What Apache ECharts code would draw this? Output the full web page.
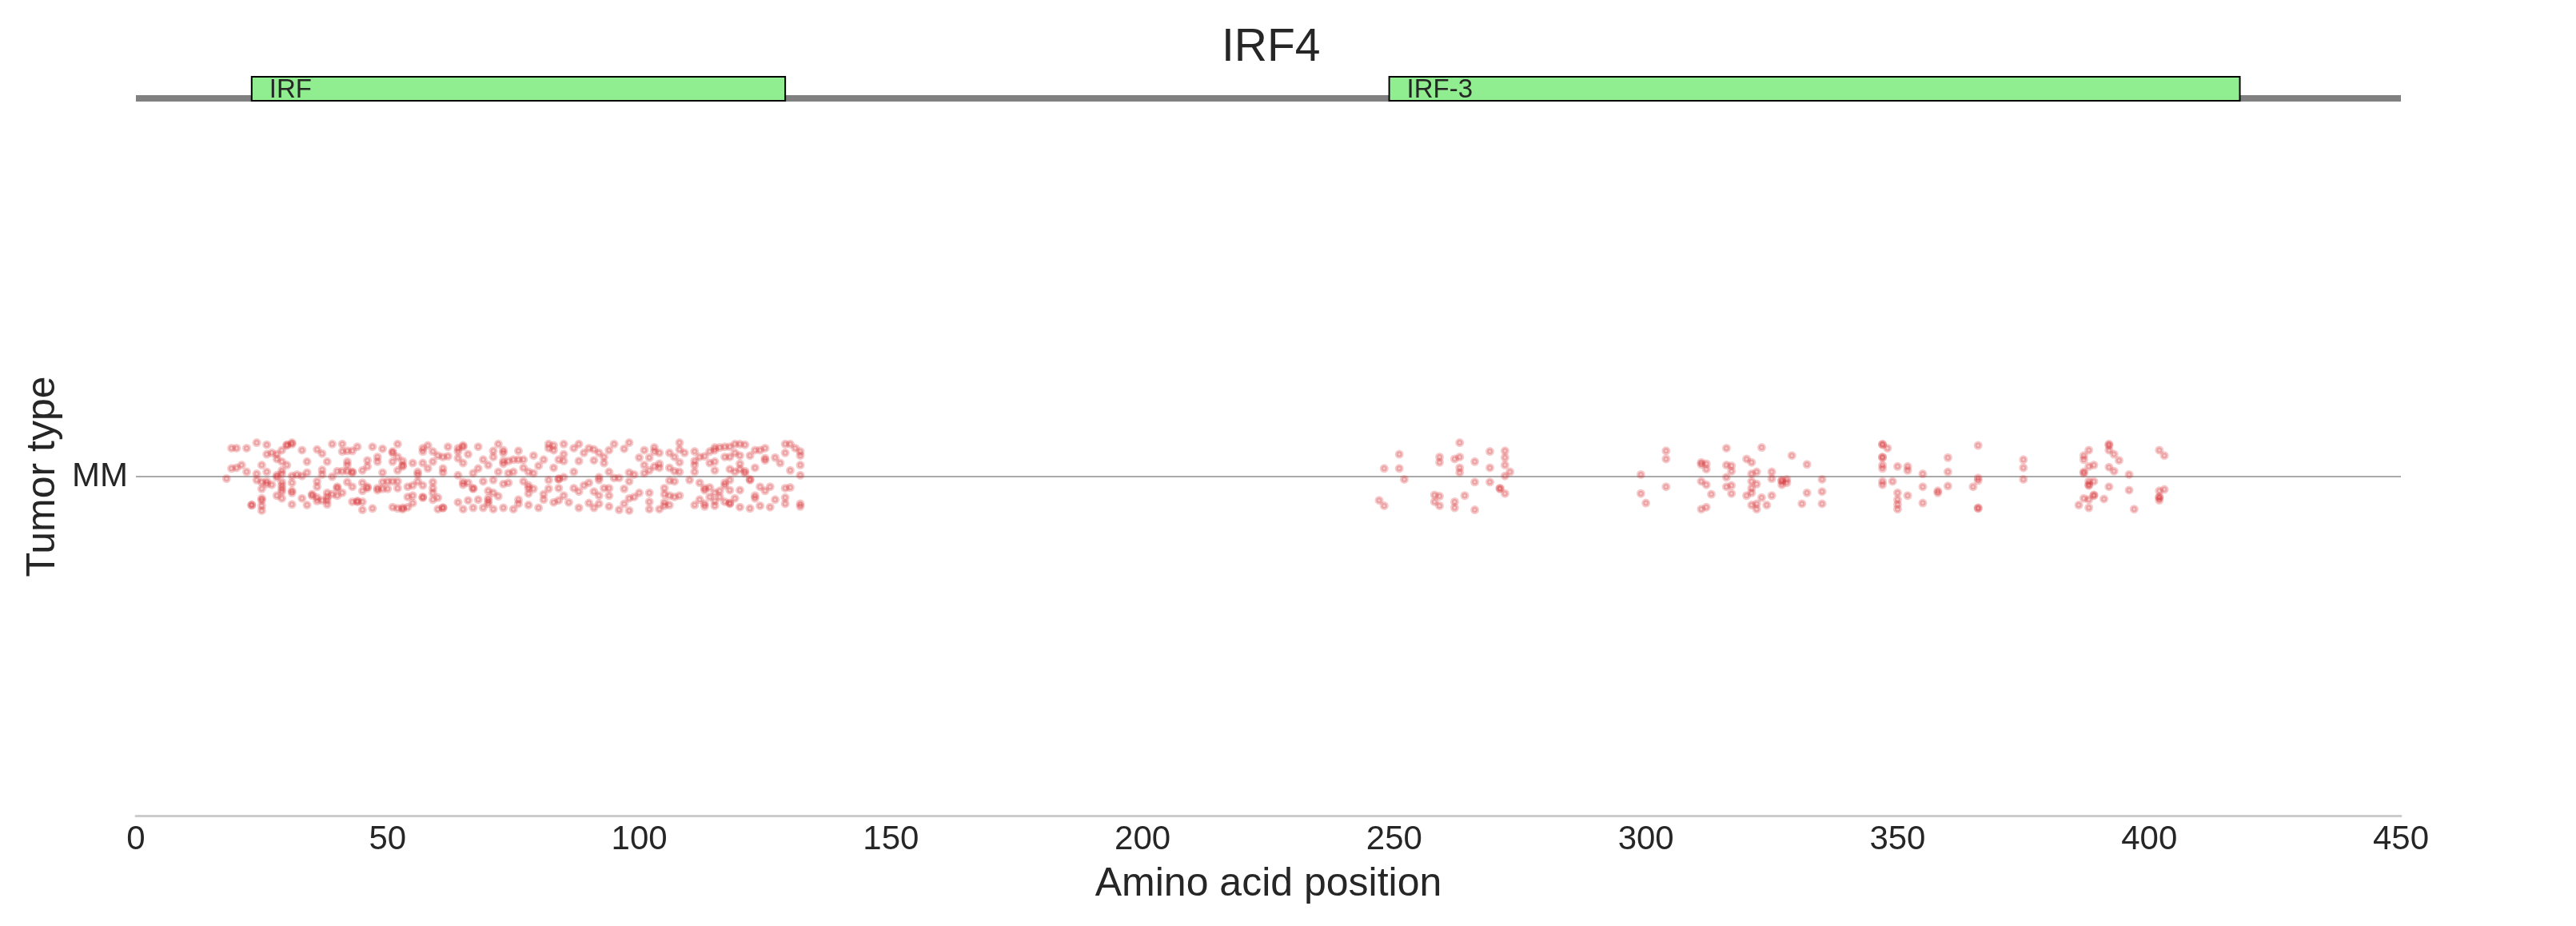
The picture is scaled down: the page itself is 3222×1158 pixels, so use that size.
<!DOCTYPE html>
<html>
<head>
<meta charset="utf-8">
<script src="https://cdn.jsdelivr.net/npm/echarts@6/dist/echarts.min.js"></script>
<style>
  html, body { margin: 0; padding: 0; background: #ffffff; }
  #chart { width: 3222px; height: 1158px; }
</style>
</head>
<body>
<div id="chart"></div>
<script>
// ---------------- DATA ----------------
var geneName = 'IRF4';
var proteinLength = 450;
var tumorTypes = ['MM'];
var xTickValues = [0, 50, 100, 150, 200, 250, 300, 350, 400, 450];

var domainNames = ['IRF', 'IRF-3'];
var domainStarts = [23, 249];
var domainEnds = [129, 418];

// [amino-acid position, vertical jitter in thousandths of the category band]
var mutationsIRF = [
  [19,42],[20,42],[22,42],[24,50],[26,47],[19,12],[20,13],[21,17],[18,-3],[22,7],
  [24,4],[25,17],[26,7],[26,33],[27,35],[28,33],[28,26],[29,39],[30,46],[30,47],
  [31,48],[31,50],[29,22],[30,17],[29,9],[29,4],[28,2],[28,-1],[24,-5],[25,-8],
  [26,-7],[26,-11],[27,-12],[25,-18],[29,-8],[29,-13],[29,-18],[29,-22],[31,-9],[31,1],
  [32,3],[33,1],[34,6],[33,39],[36,40],[34,22],[37,34],[38,22],[37,10],[37,3],
  [36,-7],[36,-15],[39,48],[41,48],[41,37],[42,38],[43,38],[44,44],[42,22],[42,17],
  [43,7],[42,8],[41,8],[40,8],[39,0],[43,6],[45,9],[46,24],[46,15],[47,44],
  [49,41],[48,29],[48,22],[49,6],[51,22],[51,37],[51,35],[52,48],[52,29],[53,23],
  [53,17],[52,9],[53,15],[45,-9],[46,-17],[46,-15],[49,-8],[50,-7],[51,-7],[52,-7],
  [52,-17],[48,-17],[49,-18],[48,-20],[50,-18],[54,-15],[43,-15],[45,-21],[42,-8],[41,-24],
  [40,-15],[40,-17],[39,-26],[40,-28],[38,-24],[38,-30],[38,-35],[38,-41],[35,-26],[36,-31],
  [36,-36],[37,-35],[35,-28],[28,-28],[29,-32],[31,-21],[31,-24],[33,-32],[25,-32],[25,-35],
  [25,-43],[25,-50],[23,-42],[23,-42],[31,-41],[34,-42],[43,-37],[44,-37],[45,-37],[44,-36],
  [45,-49],[47,-47],[51,-45],[52,-47],[53,-46],[53,-48],[54,-45],[54,-30],[55,-39],
  [55,20],[56,7],[56,3],[57,42],[57,37],[58,46],[59,37],[57,20],[58,12],[59,22],
  [55,-13],[56,-7],[57,-13],[59,-8],[59,-17],[59,-24],[60,-31],[55,-28],[57,-30],[57,-31],
  [59,-34],[61,-46],[61,-46],[60,-48],[60,31],[61,29],[62,44],[62,30],[61,12],[61,6],
  [64,2],[64,37],[64,27],[64,42],[65,44],[65,46],[66,33],[65,20],[65,-8],[65,-12],
  [66,-9],[67,-17],[67,-18],[67,5],[68,44],[69,25],[70,17],[68,12],[69,-7],[71,38],
  [71,29],[72,48],[73,39],[73,35],[73,23],[73,19],[74,23],[75,25],[76,25],[77,25],
  [72,7],[74,5],[75,7],[71,-5],[73,-11],[74,-9],[76,38],[79,31],[77,13],[78,7],
  [79,5],[77,-7],[78,-13],[78,-17],[79,-18],[64,-38],[66,-35],[65,-48],[67,-46],[68,-34],
  [69,-46],[70,-40],[70,-36],[70,-21],[71,-24],[72,-29],[70,-32],[71,-48],[73,-46],[76,-40],
  [76,-34],[75,-48],[78,-25],[78,-42],[80,16],[81,25],[82,42],[82,48],[83,46],[83,39],
  [85,48],[83,13],[84,25],[85,23],[85,33],[84,-3],[85,-1],[82,-5],[84,-4],[82,-18],
  [84,-17],[85,-28],[87,7],[87,42],[88,48],[88,23],[89,35],[90,42],[91,40],[92,35],
  [91,24],[93,29],[93,20],[92,-1],[92,-5],[87,-17],[89,-13],[90,-9],[88,-22],[91,-22],
  [92,-28],[93,-17],[81,-26],[81,-34],[80,-46],[83,-38],[84,-35],[86,-38],[88,-46],[90,-39],
  [92,-40],[91,-46],
  [94,39],[95,48],[97,41],[98,50],[94,7],[95,-2],[96,-2],[98,6],[99,3],[98,-7],
  [100,28],[101,17],[102,28],[101,39],[103,43],[103,37],[104,35],[102,9],[103,15],[104,13],
  [104,19],[101,5],[106,35],[108,50],[108,40],[109,35],[107,29],[108,21],[106,13],[107,8],
  [108,7],[107,-7],[106,-6],[94,-17],[94,-28],[94,-44],[97,-18],[98,-32],[97,-40],[96,-49],
  [98,-50],[99,-30],[100,-24],[102,-24],[102,-48],[102,-37],[105,-17],[105,-38],[105,-43],[104,-48],
  [105,-26],[106,-28],[107,-30],[108,-28],[106,-42],[110,-5],[111,7],[111,17],[111,23],[111,37],
  [112,29],[113,30],[114,20],[114,37],[115,43],[115,39],[116,43],[117,44],[118,44],[119,48],
  [120,48],[121,47],[115,22],[115,9],[117,29],[118,29],[119,35],[120,31],[122,31],[120,19],
  [118,11],[119,7],[120,11],[121,8],[121,5],[122,-5],[122,-4],[118,-5],[117,-9],[117,-13],
  [112,-9],[113,-17],[113,-20],[114,-16],[112,-34],[113,-40],[113,-44],[111,-42],[114,-30],[115,-24],
  [116,-30],[116,-21],[118,-20],[120,-20],[115,-36],[117,-37],[118,-40],[118,-39],[119,-32],[115,-43],
  [120,-45],[123,-28],[123,-32],[122,-47],[124,-15],[124,-43],[123,39],[124,39],[125,42],[125,27],
  [125,24],[127,28],[123,13],[128,20],[129,35],[129,48],[130,48],[131,42],[132,37],[132,31],
  [132,17],[130,9],[132,2],[125,-21],[126,-15],[127,-34],[126,-45],[129,-31],[129,-40],[129,-17],
  [130,-16],[132,-40],[132,-44]
];

var mutationsIRF3 = [
  [248,12],[251,33],[251,12],[252,-4],[247,-35],[248,-43],[263,50],[259,29],[259,21],[262,26],
  [263,29],[263,13],[263,6],[266,22],[269,37],[272,38],[272,28],[272,17],[269,13],[273,7],
  [272,1],[266,-8],[269,-8],[271,-17],[271,-18],[272,-25],[258,-27],[259,-29],[258,-37],[259,-43],
  [262,-37],[262,-46],[264,-28],[266,-49],[299,3],[304,38],[304,26],[304,-15],[299,-25],[300,-39],
  [311,18],[311,21],[312,19],[312,11],[311,-7],[312,-12],[313,-26],[311,-48],[312,-45],[316,42],
  [316,17],[317,16],[317,8],[316,-1],[316,-15],[317,-13],[317,-25],[320,26],[321,21],[321,4],
  [322,7],[321,-7],[322,-11],[321,-17],[321,-24],[320,-28],[323,43],[323,-31],[321,-42],[322,-40],
  [322,-48],[324,-42],
  [325,7],[325,-3],[325,-28],[329,31],[332,18],[327,-5],[327,-7],[327,-12],[328,-4],[328,-9],
  [335,-4],[332,-24],[335,-22],[331,-40],[335,-40],[347,48],[347,47],[348,42],[347,29],[347,28],
  [347,17],[347,12],[350,15],[352,15],[352,9],[347,-7],[347,-12],[349,-7],[350,-24],[350,-34],
  [350,-41],[350,-48],[352,-28],[355,4],[355,-15],[355,-39],[360,28],[360,7],[360,-14],[358,-21],
  [358,-24],[366,46],[366,-2],[366,-6],[365,-15],[366,-46],[366,-47],[375,25],[375,13],[375,-4],
  [388,39],[387,31],[387,25],[388,15],[389,17],[387,5],[387,7],[388,-7],[389,-7],[388,-13],
  [388,-12],[389,-27],[389,-28],[387,-32],[388,-34],[386,-42],[388,-46],[392,48],[392,46],[392,39],
  [393,33],[394,24],[392,14],[393,8],[396,3],[392,-15],[391,-33],[396,-20],[397,-48],[402,39],
  [403,31],[402,-21],[403,-19],[402,-30],[402,-35],[402,-31]
];

// ---------------- CHART ----------------
var FONT = '"Liberation Sans", Arial, Helvetica, sans-serif';
var TEXT = '#262626';

var tumorIndex = 0;
var scatterData = mutationsIRF.concat(mutationsIRF3).map(function (m) {
  return [m[0], tumorIndex * 1000 + m[1]];
});
var domainData = domainStarts.map(function (s, i) { return [s, domainEnds[i]]; });

var chart = echarts.init(document.getElementById('chart'), null, { renderer: 'canvas' });

chart.setOption({
  animation: false,
  backgroundColor: '#ffffff',
  title: {
    text: geneName,
    left: 1523,
    top: 27,
    textStyle: { fontFamily: FONT, fontSize: 57, fontWeight: 'normal', color: TEXT }
  },
  grid: [
    { left: 170, right: 219, top: 172, bottom: 138 },
    { left: 170, right: 219, top: 96, height: 30 }
  ],
  xAxis: [
    {
      gridIndex: 0, type: 'value', min: 0, max: proteinLength, interval: 50,
      name: 'Amino acid position', nameLocation: 'middle', nameGap: 61,
      nameTextStyle: { fontFamily: FONT, fontSize: 50, color: TEXT },
      axisLine: { show: true, onZero: false, lineStyle: { color: '#cccccc', width: 3 } },
      axisTick: { show: false },
      splitLine: { show: false },
      axisLabel: {
        fontFamily: FONT, fontSize: 42, color: TEXT, margin: 9,
        formatter: function (v) { return xTickValues.indexOf(v) >= 0 ? String(v) : ''; }
      }
    },
    { gridIndex: 1, type: 'value', min: 0, max: proteinLength, show: false }
  ],
  yAxis: [
    {
      gridIndex: 0, type: 'value', min: -500, max: 500, interval: 500,
      name: 'Tumor type', nameLocation: 'middle', nameGap: 90,
      nameTextStyle: { fontFamily: FONT, fontSize: 50, color: TEXT },
      axisLine: { show: false },
      axisTick: { show: false },
      splitLine: { show: true, showMinLine: false, showMaxLine: false, lineStyle: { color: '#aaaaaa', width: 2 } },
      axisLabel: {
        fontFamily: FONT, fontSize: 42, color: TEXT, margin: 10,
        formatter: function (v) {
          var idx = Math.round(v / 1000);
          return (v % 1000 === 0 && tumorTypes[idx] !== undefined) ? tumorTypes[idx] : '';
        }
      }
    },
    { gridIndex: 1, type: 'value', min: 0, max: 1, show: false }
  ],
  series: [
    {
      type: 'line', xAxisIndex: 1, yAxisIndex: 1,
      data: [[0, 0.1], [proteinLength, 0.1]],
      symbol: 'none', silent: true, z: 1,
      lineStyle: { color: '#808080', width: 8 }
    },
    {
      type: 'custom', xAxisIndex: 1, yAxisIndex: 1, z: 2,
      data: domainData,
      renderItem: function (params, api) {
        var p0 = api.coord([api.value(0), 1]);
        var p1 = api.coord([api.value(1), 0]);
        return {
          type: 'group',
          children: [
            {
              type: 'rect',
              shape: { x: p0[0], y: p0[1], width: p1[0] - p0[0], height: p1[1] - p0[1] },
              style: { fill: '#90ee90', stroke: '#000000', lineWidth: 2 }
            },
            {
              type: 'text',
              x: p0[0] + 22, y: (p0[1] + p1[1]) / 2 + 2,
              style: {
                text: domainNames[params.dataIndex],
                font: '33px ' + FONT, fill: TEXT,
                align: 'left', verticalAlign: 'middle'
              }
            }
          ]
        };
      }
    },
    {
      type: 'scatter', xAxisIndex: 0, yAxisIndex: 0, z: 3,
      data: scatterData,
      symbol: 'circle', symbolSize: 7,
      itemStyle: { color: '#d62728', borderColor: '#d62728', borderWidth: 4, opacity: 0.24 },
      emphasis: { disabled: true }
    }
  ]
});
</script>
</body>
</html>
